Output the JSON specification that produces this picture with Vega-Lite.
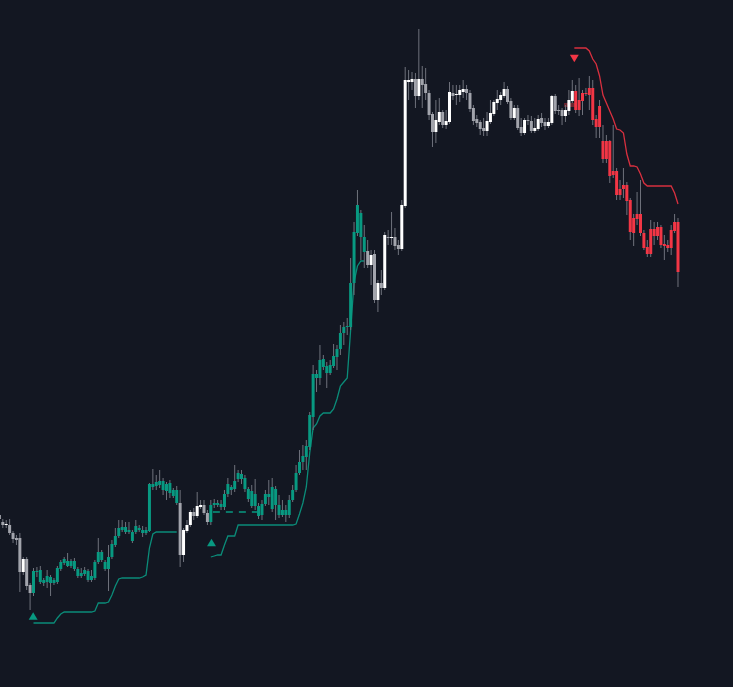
{
"$schema": "https://vega.github.io/schema/vega-lite/v6.json",
"width": 733, "height": 687,
"autosize": {"type": "fit", "contains": "padding"},
"padding": 0,
"background": "#131722",
"config": {"view": {"stroke": null}},
"datasets": {
"candles": [
{"i":0,"o":185,"h":189,"l":178,"c":181,"k":"g"},
{"i":1,"o":178,"h":181,"l":172,"c":175,"k":"g"},
{"i":2,"o":175,"h":180,"l":172,"c":176,"k":"w"},
{"i":3,"o":175,"h":181,"l":165,"c":167,"k":"g"},
{"i":4,"o":167,"h":169,"l":157,"c":161,"k":"g"},
{"i":5,"o":162,"h":165,"l":155,"c":160,"k":"g"},
{"i":6,"o":162,"h":167,"l":108,"c":128,"k":"g"},
{"i":7,"o":128,"h":143,"l":125,"c":141,"k":"w"},
{"i":8,"o":141,"h":143,"l":110,"c":114,"k":"g"},
{"i":9,"o":115,"h":117,"l":90,"c":107,"k":"g"},
{"i":10,"o":107,"h":132,"l":104,"c":129,"k":"t"},
{"i":11,"o":128,"h":133,"l":123,"c":129,"k":"t"},
{"i":12,"o":118,"h":134,"l":116,"c":130,"k":"t"},
{"i":13,"o":120,"h":122,"l":114,"c":117,"k":"t"},
{"i":14,"o":118,"h":130,"l":112,"c":124,"k":"t"},
{"i":15,"o":123,"h":125,"l":104,"c":117,"k":"t"},
{"i":16,"o":117,"h":122,"l":115,"c":120,"k":"t"},
{"i":17,"o":118,"h":134,"l":116,"c":132,"k":"t"},
{"i":18,"o":131,"h":140,"l":129,"c":138,"k":"t"},
{"i":19,"o":137,"h":143,"l":135,"c":141,"k":"t"},
{"i":20,"o":139,"h":147,"l":133,"c":134,"k":"t"},
{"i":21,"o":134,"h":141,"l":132,"c":139,"k":"t"},
{"i":22,"o":139,"h":142,"l":129,"c":131,"k":"t"},
{"i":23,"o":131,"h":133,"l":122,"c":124,"k":"t"},
{"i":24,"o":124,"h":132,"l":122,"c":127,"k":"t"},
{"i":25,"o":126,"h":133,"l":124,"c":130,"k":"t"},
{"i":26,"o":129,"h":131,"l":118,"c":120,"k":"t"},
{"i":27,"o":120,"h":130,"l":118,"c":124,"k":"t"},
{"i":28,"o":122,"h":140,"l":120,"c":138,"k":"t"},
{"i":29,"o":138,"h":162,"l":136,"c":148,"k":"t"},
{"i":30,"o":148,"h":150,"l":138,"c":140,"k":"t"},
{"i":31,"o":138,"h":140,"l":129,"c":131,"k":"t"},
{"i":32,"o":131,"h":155,"l":109,"c":143,"k":"t"},
{"i":33,"o":143,"h":160,"l":141,"c":156,"k":"t"},
{"i":34,"o":155,"h":172,"l":153,"c":164,"k":"t"},
{"i":35,"o":164,"h":180,"l":162,"c":172,"k":"t"},
{"i":36,"o":170,"h":180,"l":168,"c":173,"k":"t"},
{"i":37,"o":173,"h":178,"l":166,"c":168,"k":"t"},
{"i":38,"o":168,"h":178,"l":166,"c":170,"k":"t"},
{"i":39,"o":168,"h":170,"l":157,"c":159,"k":"t"},
{"i":40,"o":168,"h":180,"l":166,"c":174,"k":"t"},
{"i":41,"o":172,"h":175,"l":168,"c":170,"k":"t"},
{"i":42,"o":170,"h":174,"l":163,"c":167,"k":"t"},
{"i":43,"o":167,"h":173,"l":165,"c":170,"k":"t"},
{"i":44,"o":169,"h":217,"l":168,"c":216,"k":"t"},
{"i":45,"o":213,"h":231,"l":210,"c":216,"k":"t"},
{"i":46,"o":214,"h":225,"l":210,"c":218,"k":"t"},
{"i":47,"o":219,"h":230,"l":212,"c":215,"k":"t"},
{"i":48,"o":219,"h":222,"l":205,"c":210,"k":"t"},
{"i":49,"o":216,"h":218,"l":200,"c":209,"k":"t"},
{"i":50,"o":217,"h":220,"l":202,"c":207,"k":"t"},
{"i":51,"o":210,"h":212,"l":202,"c":204,"k":"t"},
{"i":52,"o":210,"h":214,"l":195,"c":197,"k":"t"},
{"i":53,"o":197,"h":210,"l":133,"c":145,"k":"g"},
{"i":54,"o":145,"h":172,"l":138,"c":170,"k":"w"},
{"i":55,"o":169,"h":180,"l":167,"c":175,"k":"w"},
{"i":56,"o":175,"h":190,"l":173,"c":188,"k":"w"},
{"i":57,"o":188,"h":192,"l":180,"c":184,"k":"g"},
{"i":58,"o":184,"h":208,"l":182,"c":194,"k":"w"},
{"i":59,"o":193,"h":200,"l":191,"c":195,"k":"w"},
{"i":60,"o":195,"h":200,"l":185,"c":187,"k":"g"},
{"i":61,"o":187,"h":190,"l":175,"c":178,"k":"g"},
{"i":62,"o":178,"h":200,"l":175,"c":195,"k":"t"},
{"i":63,"o":195,"h":201,"l":192,"c":197,"k":"t"},
{"i":64,"o":197,"h":200,"l":193,"c":195,"k":"t"},
{"i":65,"o":193,"h":200,"l":190,"c":196,"k":"t"},
{"i":66,"o":193,"h":210,"l":190,"c":206,"k":"t"},
{"i":67,"o":206,"h":222,"l":203,"c":216,"k":"t"},
{"i":68,"o":213,"h":215,"l":205,"c":210,"k":"t"},
{"i":69,"o":211,"h":235,"l":208,"c":219,"k":"t"},
{"i":70,"o":221,"h":230,"l":218,"c":227,"k":"t"},
{"i":71,"o":226,"h":230,"l":216,"c":221,"k":"t"},
{"i":72,"o":222,"h":225,"l":208,"c":211,"k":"t"},
{"i":73,"o":211,"h":213,"l":198,"c":201,"k":"t"},
{"i":74,"o":209,"h":215,"l":192,"c":194,"k":"t"},
{"i":75,"o":194,"h":221,"l":190,"c":206,"k":"t"},
{"i":76,"o":194,"h":197,"l":181,"c":184,"k":"t"},
{"i":77,"o":185,"h":200,"l":180,"c":196,"k":"t"},
{"i":78,"o":196,"h":210,"l":194,"c":206,"k":"t"},
{"i":79,"o":206,"h":220,"l":195,"c":203,"k":"t"},
{"i":80,"o":213,"h":222,"l":188,"c":191,"k":"t"},
{"i":81,"o":195,"h":214,"l":180,"c":211,"k":"t"},
{"i":82,"o":195,"h":205,"l":182,"c":185,"k":"t"},
{"i":83,"o":190,"h":200,"l":183,"c":185,"k":"t"},
{"i":84,"o":185,"h":195,"l":178,"c":190,"k":"t"},
{"i":85,"o":185,"h":205,"l":182,"c":200,"k":"t"},
{"i":86,"o":200,"h":215,"l":198,"c":210,"k":"t"},
{"i":87,"o":210,"h":235,"l":208,"c":227,"k":"t"},
{"i":88,"o":227,"h":250,"l":225,"c":238,"k":"t"},
{"i":89,"o":238,"h":255,"l":230,"c":244,"k":"t"},
{"i":90,"o":243,"h":260,"l":230,"c":254,"k":"t"},
{"i":91,"o":253,"h":288,"l":250,"c":285,"k":"t"},
{"i":92,"o":283,"h":335,"l":270,"c":326,"k":"t"},
{"i":93,"o":326,"h":330,"l":308,"c":322,"k":"t"},
{"i":94,"o":322,"h":355,"l":315,"c":340,"k":"t"},
{"i":95,"o":341,"h":345,"l":330,"c":333,"k":"t"},
{"i":96,"o":334,"h":338,"l":312,"c":327,"k":"t"},
{"i":97,"o":327,"h":340,"l":325,"c":335,"k":"t"},
{"i":98,"o":334,"h":356,"l":332,"c":344,"k":"t"},
{"i":99,"o":343,"h":355,"l":330,"c":351,"k":"t"},
{"i":100,"o":351,"h":375,"l":345,"c":367,"k":"t"},
{"i":101,"o":367,"h":378,"l":355,"c":373,"k":"t"},
{"i":102,"o":373,"h":382,"l":365,"c":374,"k":"t"},
{"i":103,"o":373,"h":442,"l":370,"c":417,"k":"t"},
{"i":104,"o":417,"h":478,"l":405,"c":468,"k":"t"},
{"i":105,"o":467,"h":510,"l":464,"c":495,"k":"t"},
{"i":106,"o":487,"h":490,"l":440,"c":463,"k":"t"},
{"i":107,"o":463,"h":475,"l":432,"c":448,"k":"t"},
{"i":108,"o":449,"h":460,"l":432,"c":435,"k":"g"},
{"i":109,"o":435,"h":450,"l":415,"c":445,"k":"w"},
{"i":110,"o":446,"h":450,"l":397,"c":400,"k":"g"},
{"i":111,"o":400,"h":420,"l":388,"c":417,"k":"w"},
{"i":112,"o":417,"h":430,"l":405,"c":412,"k":"g"},
{"i":113,"o":412,"h":468,"l":410,"c":465,"k":"w"},
{"i":114,"o":463,"h":470,"l":455,"c":462,"k":"g"},
{"i":115,"o":462,"h":488,"l":455,"c":463,"k":"w"},
{"i":116,"o":463,"h":472,"l":450,"c":454,"k":"g"},
{"i":117,"o":455,"h":460,"l":445,"c":451,"k":"g"},
{"i":118,"o":451,"h":500,"l":449,"c":495,"k":"w"},
{"i":119,"o":494,"h":633,"l":492,"c":620,"k":"w"},
{"i":120,"o":618,"h":630,"l":600,"c":620,"k":"w"},
{"i":121,"o":618,"h":628,"l":610,"c":621,"k":"w"},
{"i":122,"o":621,"h":627,"l":592,"c":604,"k":"g"},
{"i":123,"o":604,"h":671,"l":600,"c":621,"k":"w"},
{"i":124,"o":621,"h":634,"l":592,"c":615,"k":"g"},
{"i":125,"o":616,"h":632,"l":600,"c":607,"k":"g"},
{"i":126,"o":607,"h":610,"l":580,"c":585,"k":"g"},
{"i":127,"o":586,"h":588,"l":553,"c":568,"k":"g"},
{"i":128,"o":568,"h":600,"l":557,"c":580,"k":"w"},
{"i":129,"o":578,"h":602,"l":575,"c":588,"k":"w"},
{"i":130,"o":588,"h":590,"l":572,"c":575,"k":"g"},
{"i":131,"o":575,"h":590,"l":571,"c":579,"k":"w"},
{"i":132,"o":578,"h":618,"l":576,"c":608,"k":"w"},
{"i":133,"o":607,"h":615,"l":600,"c":604,"k":"g"},
{"i":134,"o":605,"h":615,"l":595,"c":606,"k":"w"},
{"i":135,"o":605,"h":615,"l":598,"c":610,"k":"w"},
{"i":136,"o":608,"h":620,"l":602,"c":611,"k":"w"},
{"i":137,"o":611,"h":615,"l":600,"c":607,"k":"g"},
{"i":138,"o":607,"h":610,"l":588,"c":591,"k":"g"},
{"i":139,"o":592,"h":595,"l":575,"c":579,"k":"g"},
{"i":140,"o":581,"h":585,"l":573,"c":577,"k":"g"},
{"i":141,"o":578,"h":580,"l":565,"c":571,"k":"g"},
{"i":142,"o":572,"h":582,"l":564,"c":569,"k":"g"},
{"i":143,"o":569,"h":588,"l":564,"c":579,"k":"w"},
{"i":144,"o":578,"h":600,"l":576,"c":587,"k":"w"},
{"i":145,"o":586,"h":600,"l":584,"c":598,"k":"w"},
{"i":146,"o":597,"h":610,"l":590,"c":601,"k":"w"},
{"i":147,"o":600,"h":608,"l":595,"c":605,"k":"w"},
{"i":148,"o":604,"h":618,"l":602,"c":611,"k":"w"},
{"i":149,"o":611,"h":614,"l":596,"c":598,"k":"g"},
{"i":150,"o":599,"h":602,"l":580,"c":582,"k":"g"},
{"i":151,"o":582,"h":595,"l":580,"c":592,"k":"w"},
{"i":152,"o":592,"h":595,"l":570,"c":572,"k":"g"},
{"i":153,"o":573,"h":582,"l":564,"c":567,"k":"g"},
{"i":154,"o":567,"h":582,"l":565,"c":580,"k":"w"},
{"i":155,"o":580,"h":585,"l":575,"c":579,"k":"g"},
{"i":156,"o":579,"h":584,"l":567,"c":569,"k":"g"},
{"i":157,"o":569,"h":582,"l":567,"c":572,"k":"w"},
{"i":158,"o":571,"h":585,"l":569,"c":581,"k":"w"},
{"i":159,"o":582,"h":587,"l":573,"c":577,"k":"g"},
{"i":160,"o":578,"h":582,"l":570,"c":574,"k":"g"},
{"i":161,"o":574,"h":582,"l":572,"c":578,"k":"w"},
{"i":162,"o":577,"h":605,"l":575,"c":604,"k":"w"},
{"i":163,"o":604,"h":606,"l":586,"c":589,"k":"g"},
{"i":164,"o":590,"h":595,"l":585,"c":589,"k":"g"},
{"i":165,"o":590,"h":592,"l":575,"c":584,"k":"g"},
{"i":166,"o":584,"h":595,"l":578,"c":590,"k":"w"},
{"i":167,"o":589,"h":610,"l":585,"c":600,"k":"w"},
{"i":168,"o":599,"h":620,"l":597,"c":609,"k":"w"},
{"i":169,"o":609,"h":615,"l":587,"c":590,"k":"r"},
{"i":170,"o":600,"h":622,"l":584,"c":590,"k":"r"},
{"i":171,"o":607,"h":610,"l":585,"c":599,"k":"r"},
{"i":172,"o":607,"h":612,"l":604,"c":606,"k":"r"},
{"i":173,"o":612,"h":624,"l":590,"c":605,"k":"r"},
{"i":174,"o":612,"h":620,"l":575,"c":580,"k":"r"},
{"i":175,"o":581,"h":585,"l":562,"c":573,"k":"r"},
{"i":176,"o":594,"h":600,"l":562,"c":573,"k":"r"},
{"i":177,"o":559,"h":575,"l":537,"c":541,"k":"r"},
{"i":178,"o":559,"h":565,"l":537,"c":541,"k":"r"},
{"i":179,"o":559,"h":560,"l":517,"c":524,"k":"r"},
{"i":180,"o":529,"h":575,"l":522,"c":525,"k":"r"},
{"i":181,"o":529,"h":532,"l":500,"c":505,"k":"r"},
{"i":182,"o":511,"h":520,"l":500,"c":505,"k":"r"},
{"i":183,"o":515,"h":532,"l":502,"c":511,"k":"r"},
{"i":184,"o":515,"h":518,"l":485,"c":499,"k":"r"},
{"i":185,"o":500,"h":502,"l":460,"c":468,"k":"r"},
{"i":186,"o":482,"h":486,"l":454,"c":467,"k":"r"},
{"i":187,"o":486,"h":508,"l":475,"c":481,"k":"r"},
{"i":188,"o":486,"h":520,"l":464,"c":467,"k":"r"},
{"i":189,"o":467,"h":470,"l":450,"c":452,"k":"r"},
{"i":190,"o":453,"h":460,"l":443,"c":446,"k":"r"},
{"i":191,"o":471,"h":480,"l":443,"c":446,"k":"r"},
{"i":192,"o":471,"h":478,"l":455,"c":464,"k":"r"},
{"i":193,"o":473,"h":478,"l":460,"c":464,"k":"r"},
{"i":194,"o":473,"h":475,"l":452,"c":455,"k":"r"},
{"i":195,"o":456,"h":465,"l":440,"c":454,"k":"r"},
{"i":196,"o":455,"h":460,"l":448,"c":452,"k":"r"},
{"i":197,"o":470,"h":475,"l":445,"c":452,"k":"r"},
{"i":198,"o":478,"h":486,"l":467,"c":469,"k":"r"},
{"i":199,"o":478,"h":482,"l":413,"c":428,"k":"r"}
],
"stops": [
{"i":10,"v":77,"s":"a","k":"lt"},{"i":11,"v":77,"s":"a","k":"lt"},{"i":12,"v":77,"s":"a","k":"lt"},{"i":13,"v":77,"s":"a","k":"lt"},{"i":14,"v":77,"s":"a","k":"lt"},{"i":15,"v":77,"s":"a","k":"lt"},{"i":16,"v":77,"s":"a","k":"lt"},{"i":17,"v":82,"s":"a","k":"lt"},{"i":18,"v":86,"s":"a","k":"lt"},{"i":19,"v":88,"s":"a","k":"lt"},{"i":20,"v":88,"s":"a","k":"lt"},{"i":21,"v":88,"s":"a","k":"lt"},{"i":22,"v":88,"s":"a","k":"lt"},{"i":23,"v":88,"s":"a","k":"lt"},{"i":24,"v":88,"s":"a","k":"lt"},{"i":25,"v":88,"s":"a","k":"lt"},{"i":26,"v":88,"s":"a","k":"lt"},{"i":27,"v":88,"s":"a","k":"lt"},{"i":28,"v":89,"s":"a","k":"lt"},{"i":29,"v":97,"s":"a","k":"lt"},{"i":30,"v":97,"s":"a","k":"lt"},{"i":31,"v":97,"s":"a","k":"lt"},{"i":32,"v":98,"s":"a","k":"lt"},{"i":33,"v":105,"s":"a","k":"lt"},{"i":34,"v":114,"s":"a","k":"lt"},{"i":35,"v":121,"s":"a","k":"lt"},{"i":36,"v":122,"s":"a","k":"lt"},{"i":37,"v":122,"s":"a","k":"lt"},{"i":38,"v":122,"s":"a","k":"lt"},{"i":39,"v":122,"s":"a","k":"lt"},{"i":40,"v":122,"s":"a","k":"lt"},{"i":41,"v":122,"s":"a","k":"lt"},{"i":42,"v":123,"s":"a","k":"lt"},{"i":43,"v":125,"s":"a","k":"lt"},{"i":44,"v":152,"s":"a","k":"lt"},{"i":45,"v":166,"s":"a","k":"lt"},{"i":46,"v":168,"s":"a","k":"lt"},{"i":47,"v":168,"s":"a","k":"lt"},{"i":48,"v":168,"s":"a","k":"lt"},{"i":49,"v":168,"s":"a","k":"lt"},{"i":50,"v":168,"s":"a","k":"lt"},{"i":51,"v":168,"s":"a","k":"lt"},{"i":52,"v":168,"s":"a","k":"lt"},
{"i":62,"v":143,"s":"b","k":"lt"},{"i":63,"v":144,"s":"b","k":"lt"},{"i":64,"v":145,"s":"b","k":"lt"},{"i":65,"v":145,"s":"b","k":"lt"},{"i":66,"v":155,"s":"b","k":"lt"},{"i":67,"v":164,"s":"b","k":"lt"},{"i":68,"v":164,"s":"b","k":"lt"},{"i":69,"v":164,"s":"b","k":"lt"},{"i":70,"v":175,"s":"b","k":"lt"},{"i":71,"v":175,"s":"b","k":"lt"},{"i":72,"v":175,"s":"b","k":"lt"},{"i":73,"v":175,"s":"b","k":"lt"},{"i":74,"v":175,"s":"b","k":"lt"},{"i":75,"v":175,"s":"b","k":"lt"},{"i":76,"v":175,"s":"b","k":"lt"},{"i":77,"v":175,"s":"b","k":"lt"},{"i":78,"v":175,"s":"b","k":"lt"},{"i":79,"v":175,"s":"b","k":"lt"},{"i":80,"v":175,"s":"b","k":"lt"},{"i":81,"v":175,"s":"b","k":"lt"},{"i":82,"v":175,"s":"b","k":"lt"},{"i":83,"v":175,"s":"b","k":"lt"},{"i":84,"v":175,"s":"b","k":"lt"},{"i":85,"v":175,"s":"b","k":"lt"},{"i":86,"v":175,"s":"b","k":"lt"},{"i":87,"v":176,"s":"b","k":"lt"},{"i":88,"v":186,"s":"b","k":"lt"},{"i":89,"v":197,"s":"b","k":"lt"},{"i":90,"v":213,"s":"b","k":"lt"},{"i":91,"v":247,"s":"b","k":"lt"},{"i":92,"v":272,"s":"b","k":"lt"},{"i":93,"v":276,"s":"b","k":"lt"},{"i":94,"v":284,"s":"b","k":"lt"},{"i":95,"v":287,"s":"b","k":"lt"},{"i":96,"v":287,"s":"b","k":"lt"},{"i":97,"v":287,"s":"b","k":"lt"},{"i":98,"v":291,"s":"b","k":"lt"},{"i":99,"v":301,"s":"b","k":"lt"},{"i":100,"v":314,"s":"b","k":"lt"},{"i":101,"v":318,"s":"b","k":"lt"},{"i":102,"v":322,"s":"b","k":"lt"},{"i":103,"v":370,"s":"b","k":"lt"},{"i":104,"v":418,"s":"b","k":"lt"},{"i":105,"v":434,"s":"b","k":"lt"},{"i":106,"v":439,"s":"b","k":"lt"},{"i":107,"v":439,"s":"b","k":"lt"},
{"i":168.6,"v":652,"s":"c","k":"lr"},{"i":169,"v":652,"s":"c","k":"lr"},{"i":170,"v":652,"s":"c","k":"lr"},{"i":171,"v":652,"s":"c","k":"lr"},{"i":172,"v":652,"s":"c","k":"lr"},{"i":173,"v":649,"s":"c","k":"lr"},{"i":174,"v":641,"s":"c","k":"lr"},{"i":175,"v":636,"s":"c","k":"lr"},{"i":176,"v":624,"s":"c","k":"lr"},{"i":177,"v":605,"s":"c","k":"lr"},{"i":178,"v":597,"s":"c","k":"lr"},{"i":179,"v":589,"s":"c","k":"lr"},{"i":180,"v":581,"s":"c","k":"lr"},{"i":181,"v":571,"s":"c","k":"lr"},{"i":182,"v":570,"s":"c","k":"lr"},{"i":183,"v":567,"s":"c","k":"lr"},{"i":184,"v":546,"s":"c","k":"lr"},{"i":185,"v":534,"s":"c","k":"lr"},{"i":186,"v":534,"s":"c","k":"lr"},{"i":187,"v":533,"s":"c","k":"lr"},{"i":188,"v":526,"s":"c","k":"lr"},{"i":189,"v":517,"s":"c","k":"lr"},{"i":190,"v":514,"s":"c","k":"lr"},{"i":191,"v":514,"s":"c","k":"lr"},{"i":192,"v":514,"s":"c","k":"lr"},{"i":193,"v":514,"s":"c","k":"lr"},{"i":194,"v":514,"s":"c","k":"lr"},{"i":195,"v":514,"s":"c","k":"lr"},{"i":196,"v":514,"s":"c","k":"lr"},{"i":197,"v":514,"s":"c","k":"lr"},{"i":198,"v":507,"s":"c","k":"lr"},{"i":199,"v":496,"s":"c","k":"lr"}
],
"levels": [
{"a":62.6,"b":75.8,"v":188}
],
"shade": [
{"a":165.6,"b":168.8,"v":595}
],
"signals": [
{"i":9.9,"v":84,"sh":"triangle-up","k":"t"},
{"i":62.2,"v":157.5,"sh":"triangle-up","k":"t"},
{"i":168.6,"v":641.5,"sh":"triangle-down","k":"r"}
]
},
"layer": [
{
"data": {"name": "stops"},
"mark": {"type": "line", "strokeWidth": 1.3, "clip": true},
"encoding": {
"x": {"field": "i", "type": "quantitative", "scale": {"domain": [0.176, 215.13], "nice": false, "zero": false, "padding": 0}, "axis": null},
"y": {"field": "v", "type": "quantitative", "scale": {"domain": [13, 700], "nice": false, "zero": false, "padding": 0}, "axis": null},
"detail": {"field": "s"},
"color": {"field": "k", "type": "nominal", "scale": {"domain": ["t","w","g","r","lt","lr"], "range": ["#089981","#ffffff","#a2a4ac","#f23645","#0b8c79","#d8303f"]}, "legend": null}
}
},
{
"data": {"name": "levels"},
"mark": {"type": "rule", "strokeWidth": 1.5, "strokeDash": [7, 6], "color": "#089981"},
"encoding": {
"x": {"field": "a", "type": "quantitative"},
"x2": {"field": "b"},
"y": {"field": "v", "type": "quantitative"}
}
},
{
"data": {"name": "shade"},
"mark": {"type": "rule", "strokeWidth": 4, "color": "#6b2530"},
"encoding": {
"x": {"field": "a", "type": "quantitative"},
"x2": {"field": "b"},
"y": {"field": "v", "type": "quantitative"}
}
},
{
"data": {"name": "candles"},
"mark": {"type": "rule", "strokeWidth": 1, "color": "#6f727c", "clip": true},
"encoding": {
"x": {"field": "i", "type": "quantitative"},
"y": {"field": "h", "type": "quantitative"},
"y2": {"field": "l"}
}
},
{
"data": {"name": "candles"},
"mark": {"type": "bar", "size": 3, "clip": true},
"encoding": {
"x": {"field": "i", "type": "quantitative"},
"y": {"field": "o", "type": "quantitative"},
"y2": {"field": "c"},
"color": {"field": "k", "type": "nominal", "legend": null}
}
},
{
"data": {"name": "signals"},
"mark": {"type": "point", "filled": true, "size": 80, "opacity": 1},
"encoding": {
"x": {"field": "i", "type": "quantitative"},
"y": {"field": "v", "type": "quantitative"},
"shape": {"field": "sh", "type": "nominal", "scale": {"domain": ["triangle-up","triangle-down"], "range": ["triangle-up","triangle-down"]}, "legend": null},
"color": {"field": "k", "type": "nominal", "legend": null}
}
}
]
}
